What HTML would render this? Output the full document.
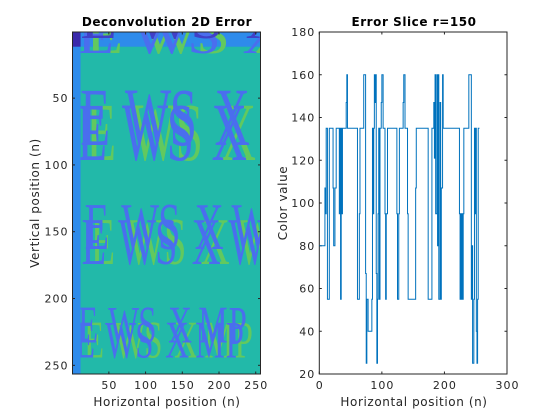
<!DOCTYPE html>
<html><head><meta charset="utf-8"><style>
body{margin:0;background:#fff;}
svg{display:block;font-family:"DejaVu Sans","Liberation Sans",sans-serif;}
</style></head><body>
<svg id="fig" width="560" height="420" viewBox="0 0 560 420">
<defs><clipPath id="imgclip"><rect x="72.5" y="32" width="188" height="342"/></clipPath></defs>
<g id="left"></g>
<g id="right"></g>
</svg>
<script>
// ---- Heatmap (image) data: letter rows in image (row/col units) ----
const imgRows = ["EWSX", "EWSX", "EWSXW", "EWSXMP"];
const imgRowTop = [-22, 44, 130, 207];
const imgRowBottom = [5, 85, 163, 233];
const imgRowLeft = [11, 11, 17, 8];
const imgRowPitch = [75, 61, 50, 41];
const imgTicks = [50, 100, 150, 200, 250];
// ---- Slice data: run starts (column index) and values ----
const runStart = [0,9,10,11,13,16,22,23,25,27,28,32,33,34,35,36,37,43,44,45,61,64,65,71,74,75,76,78,84,85,86,87,88,89,90,91,92,93,94,95,96,97,99,100,102,105,106,107,109,124,125,127,128,134,135,137,141,142,154,155,174,180,183,184,185,186,188,189,190,191,193,194,195,197,198,199,224,225,226,227,228,229,230,231,239,243,244,245,247,248,249,250,251,252,253,254,255];
const runValue = [80,107,95,135,55,135,107,80,107,135,135,95,135,55,135,95,135,147,160,135,55,95,135,160,67,25,55,40,55,135,95,135,160,147,160,67,25,55,95,135,55,135,147,160,135,95,55,95,135,95,55,95,135,147,160,135,95,55,107,135,55,135,147,121,160,95,160,80,160,55,147,55,107,160,135,135,95,55,95,55,95,55,95,135,160,55,80,25,55,135,95,135,40,25,55,135,135];
const sliceXTicks = [0, 100, 200, 300];
const sliceYTicks = [20, 40, 60, 80, 100, 120, 140, 160, 180];

const NS = "http://www.w3.org/2000/svg";
function mk(tag, attrs, parent){const e=document.createElementNS(NS,tag);for(const k in attrs)e.setAttribute(k,attrs[k]);parent.appendChild(e);return e;}

// ---------- Left image axes ----------
const L = {x0:72.5, x1:260.5, y0:32, y1:374};
const CW = (L.x1 - L.x0) / 256, RH = (L.y1 - L.y0) / 256;
const ix = c => L.x0 + (c - 0.5) * CW;
const iy = r => L.y0 + (r - 0.5) * RH;
const left = document.getElementById('left');
const img = mk('g', {'clip-path':'url(#imgclip)'}, left);


mk('rect', {x:L.x0, y:L.y0, width:188, height:342, fill:'#22B9A9'}, img);
mk('rect', {x:L.x0, y:L.y0, width:188, height:iy(11.5)-L.y0, fill:'#2E8BEB'}, img);
const copies = [
  {dx:6, dy:15, fill:'#62C95E', name:'image-letter-green'},
  {dx:-3, dy:15, fill:'#4A6EEE', name:'image-letter-blue-lower'},
  {dx:0, dy:0, fill:'#4A6EEE', name:'image-letter-blue-upper'}
];
imgRows.forEach((s, i) => {
  const top = iy(imgRowTop[i]), bot = iy(imgRowBottom[i]);
  const h = bot - top;
  const fs = h / 0.66;
  const pitchPx = imgRowPitch[i] * CW;
  const scx = (0.72 * pitchPx) / (0.66 * fs);
  copies.forEach(c => {
    for (let k = 0; k < s.length; k++) {
      const x = ix(imgRowLeft[i] + k * imgRowPitch[i]) + c.dx;
      const t = mk('text', {transform:'translate(' + x.toFixed(1) + ',' + (bot + c.dy).toFixed(1) + ') scale(' + scx.toFixed(3) + ',1)', 'font-family':'"Liberation Serif",serif', 'font-size':fs.toFixed(1), fill:(i === 0 && c.dy === 0) ? '#4040C8' : c.fill}, img);
      t.textContent = s[k];
      
      
    }
  });
});
mk('rect', {x:L.x0, y:L.y0, width:ix(11.5)-L.x0, height:342, fill:'#2E8BEB'}, img);
mk('rect', {x:L.x0, y:L.y0, width:ix(11.5)-L.x0, height:iy(11.5)-L.y0, fill:'#3A2AAB'}, img);
mk('rect', {x:L.x0, y:L.y0, width:188, height:342, fill:'none', stroke:'#262626', 'stroke-width':1}, left);
imgTicks.forEach(t => {
  mk('line', {x1:ix(t), x2:ix(t), y1:L.y1, y2:L.y1-2.5, stroke:'#262626'}, left);
  mk('line', {x1:ix(t), x2:ix(t), y1:L.y0, y2:L.y0+2.5, stroke:'#262626'}, left);
  const tx = mk('text', {x:ix(t)+0.5, y:L.y1+15, 'font-size':11, 'letter-spacing':1, fill:'#262626', 'text-anchor':'middle'}, left);
  tx.textContent = t;
  
  
  mk('line', {x1:L.x0, x2:L.x0+2.5, y1:iy(t), y2:iy(t), stroke:'#262626'}, left);
  mk('line', {x1:L.x1, x2:L.x1-2.5, y1:iy(t), y2:iy(t), stroke:'#262626'}, left);
  const ty = mk('text', {x:L.x0-4, y:iy(t)+4, 'font-size':11, 'letter-spacing':1, fill:'#262626', 'text-anchor':'end'}, left);
  ty.textContent = t;
  
  
});
let t1 = mk('text', {x:167, y:26, 'font-size':12, 'letter-spacing':0.55, 'font-weight':'bold', fill:'#000', 'text-anchor':'middle'}, left);
t1.textContent = 'Deconvolution 2D Error';


let xl1 = mk('text', {x:167, y:406, 'font-size':12, 'letter-spacing':0.6, fill:'#262626', 'text-anchor':'middle'}, left);
xl1.textContent = 'Horizontal position (n)';


let yl1 = mk('text', {x:0, y:0, 'font-size':12, 'letter-spacing':0.6, fill:'#262626', 'text-anchor':'middle', transform:'translate(39,203) rotate(-90)'}, left);
yl1.textContent = 'Vertical position (n)';



// ---------- Right slice axes ----------
const R = {x0:319.3, x1:507, y0:32, y1:374};
const sx = v => R.x0 + v * (R.x1 - R.x0) / 300;
const sy = v => R.y1 - (v - 20) * (R.y1 - R.y0) / 160;
const right = document.getElementById('right');
mk('rect', {x:R.x0, y:R.y0, width:R.x1-R.x0, height:R.y1-R.y0, fill:'#fff', stroke:'#262626', 'stroke-width':1}, right);
sliceXTicks.forEach(t => {
  mk('line', {x1:sx(t), x2:sx(t), y1:R.y1, y2:R.y1-2.5, stroke:'#262626'}, right);
  mk('line', {x1:sx(t), x2:sx(t), y1:R.y0, y2:R.y0+2.5, stroke:'#262626'}, right);
  const tx = mk('text', {x:sx(t)+0.5, y:R.y1+15, 'font-size':11, 'letter-spacing':1, fill:'#262626', 'text-anchor':'middle'}, right);
  tx.textContent = t;
  
  
});
sliceYTicks.forEach(t => {
  mk('line', {x1:R.x0, x2:R.x0+2.5, y1:sy(t), y2:sy(t), stroke:'#262626'}, right);
  mk('line', {x1:R.x1, x2:R.x1-2.5, y1:sy(t), y2:sy(t), stroke:'#262626'}, right);
  const ty = mk('text', {x:R.x0-4, y:sy(t)+4, 'font-size':11, 'letter-spacing':1, fill:'#262626', 'text-anchor':'end'}, right);
  ty.textContent = t;
  
  
});
let d = '';
for (let i = 0; i < runStart.length; i++) {
  const xa = sx(runStart[i]), xb = sx(i + 1 < runStart.length ? runStart[i+1] : runStart[i] + 1);
  const y = sy(runValue[i]);
  d += (i === 0 ? 'M' : 'L') + xa.toFixed(2) + ',' + y.toFixed(2) + 'L' + xb.toFixed(2) + ',' + y.toFixed(2);
}
const line = mk('path', {d:d, fill:'none', stroke:'#0072BD', 'stroke-width':1}, right);


let t2 = mk('text', {x:414, y:26, 'font-size':12, 'letter-spacing':0.55, 'font-weight':'bold', fill:'#000', 'text-anchor':'middle'}, right);
t2.textContent = 'Error Slice r=150';


let xl2 = mk('text', {x:414, y:406, 'font-size':12, 'letter-spacing':0.6, fill:'#262626', 'text-anchor':'middle'}, right);
xl2.textContent = 'Horizontal position (n)';


let yl2 = mk('text', {x:0, y:0, 'font-size':12, 'letter-spacing':0.6, fill:'#262626', 'text-anchor':'middle', transform:'translate(287,203) rotate(-90)'}, right);
yl2.textContent = 'Color value';


</script>
</body></html>
